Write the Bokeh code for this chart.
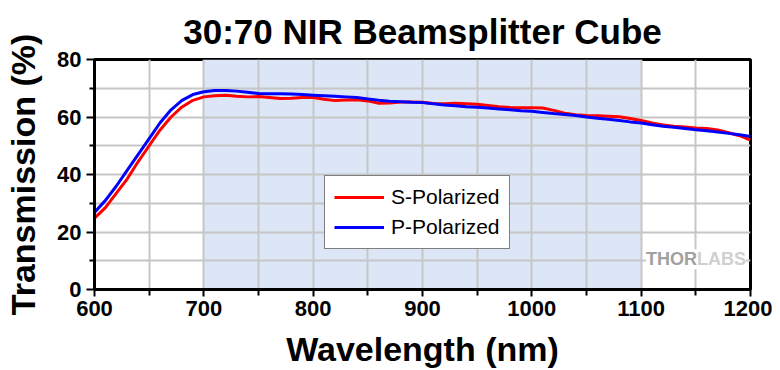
from bokeh.plotting import figure
from bokeh.models import BoxAnnotation, Legend, LegendItem, Label, FixedTicker, Range1d
from bokeh.embed import file_html
from bokeh.resources import INLINE

title_text = "30:70 NIR Beamsplitter Cube"
wavelength = [600, 610, 620, 630, 640, 650, 660, 670, 680, 690, 700, 710, 720, 730, 740, 750,
              760, 770, 780, 790, 800, 810, 820, 830, 840, 850, 860, 870, 880, 890, 900, 910,
              920, 930, 940, 950, 960, 970, 980, 990, 1000, 1010, 1020, 1030, 1040, 1050, 1060,
              1070, 1080, 1090, 1100, 1110, 1120, 1130, 1140, 1150, 1160, 1170, 1180, 1190, 1200]
s_pol = [24.8, 28.5, 33.5, 38.5, 44.5, 50.0, 55.5, 60.0, 63.5, 65.8, 67.0, 67.4, 67.6, 67.2, 67.0, 67.1,
         66.8, 66.4, 66.5, 66.8, 66.8, 66.2, 65.7, 65.9, 66.0, 65.6, 64.8, 64.9, 65.2, 65.2, 65.1, 64.7,
         64.6, 64.8, 64.6, 64.4, 64.0, 63.6, 63.3, 63.2, 63.2, 63.1, 62.3, 61.3, 60.8, 60.5, 60.4,
         60.3, 60.1, 59.5, 58.8, 57.9, 57.2, 56.8, 56.5, 56.2, 56.0, 55.5, 54.5, 53.5, 52.0]
p_pol = [26.8, 31.0, 36.0, 41.5, 47.0, 52.5, 58.0, 62.5, 65.8, 67.8, 68.8, 69.2, 69.2, 69.0, 68.6, 68.2,
         68.1, 68.1, 68.0, 67.8, 67.6, 67.4, 67.2, 67.0, 66.8, 66.3, 65.8, 65.5, 65.3, 65.1, 65.0, 64.6,
         64.2, 63.9, 63.6, 63.4, 63.1, 62.8, 62.5, 62.2, 62.0, 61.6, 61.2, 60.9, 60.5, 60.0, 59.6,
         59.2, 58.8, 58.3, 57.9, 57.3, 56.8, 56.4, 56.0, 55.6, 55.2, 54.8, 54.3, 53.8, 53.2]
x_ticks = [600, 700, 800, 900, 1000, 1100, 1200]
x_minor = [650, 750, 850, 950, 1050, 1150]
y_ticks = [0, 20, 40, 60, 80]
y_minor = [10, 30, 50, 70]
band = (700, 1100)

p = figure(width=772, height=370, output_backend="svg", toolbar_location=None,
           x_range=Range1d(600, 1200), y_range=Range1d(0, 80),
           min_border_left=94, min_border_right=22, min_border_top=58, min_border_bottom=81,
           title=title_text)
p.title.align = "center"
p.title.text_font = "Liberation Sans"
p.title.text_font_size = "35px"
p.title.text_font_style = "bold"
p.title.text_color = "black"
p.title.text_line_height = 1.0
p.title.offset = 0
p.title.standoff = 18

p.outline_line_color = "black"
p.outline_line_width = 3

p.add_layout(BoxAnnotation(left=band[0], right=band[1], fill_color="#dde6f6", fill_alpha=1.0,
                           line_alpha=0, level="image"))

for ax in (p.xaxis[0], p.yaxis[0]):
    ax.axis_line_width = 3
    ax.axis_line_color = "black"
    ax.major_tick_line_width = 2
    ax.minor_tick_line_width = 2
    ax.major_tick_in = 0
    ax.minor_tick_in = 0
    ax.major_label_text_font = "Liberation Sans"
    ax.major_label_text_font_style = "bold"
    ax.major_label_text_font_size = "22px"
    ax.major_label_text_color = "black"
    ax.axis_label_text_font = "Liberation Sans"
    ax.axis_label_text_font_style = "bold"
    ax.axis_label_text_font_size = "34px"
    ax.axis_label_text_color = "black"

p.xaxis.ticker = FixedTicker(ticks=x_ticks, minor_ticks=x_minor)
p.yaxis.ticker = FixedTicker(ticks=y_ticks, minor_ticks=y_minor)
p.xaxis.major_tick_out = 7
p.xaxis.minor_tick_out = 6
p.yaxis.major_tick_out = 8
p.yaxis.minor_tick_out = 5
p.xaxis.major_label_standoff = 4
p.yaxis.major_label_standoff = 5
p.xaxis.axis_label = "Wavelength (nm)"
p.yaxis.axis_label = "Transmission (%)"
p.xaxis.axis_label_standoff = 11
p.yaxis.axis_label_standoff = 12

for g in (p.xgrid[0], p.ygrid[0]):
    g.grid_line_color = "#c6c6c6"
    g.grid_line_width = 2
    g.minor_grid_line_color = "#c6c6c6"
    g.minor_grid_line_width = 2

r_s = p.line(wavelength, s_pol, line_color="#ff0000", line_width=3)
r_p = p.line(wavelength, p_pol, line_color="#0000ff", line_width=3)

legend = Legend(items=[LegendItem(label="S-Polarized", renderers=[r_s]),
                       LegendItem(label="P-Polarized", renderers=[r_p])],
                location=(230, 40), label_text_font="Liberation Sans", label_text_font_size="21px",
                label_text_color="black", glyph_width=50, glyph_height=20, label_height=20,
                spacing=6, padding=9, margin=0, border_line_color="black", border_line_width=1.5,
                background_fill_color="white", background_fill_alpha=1.0, label_standoff=7)
p.add_layout(legend, "center")

p.add_layout(Label(x=1151, y=10.5, text="THOR", text_font="Liberation Sans", text_font_style="bold",
                   text_font_size="18px", text_color="#a0a0a0", text_align="right", text_baseline="middle",
                   background_fill_color="white", padding=0))
p.add_layout(Label(x=1151, y=10.5, text="LABS", text_font="Liberation Sans", text_font_style="bold",
                   text_font_size="18px", text_color="#d0d0d0", text_align="left", text_baseline="middle",
                   background_fill_color="white", padding=0))

open("out.html", "w").write(file_html(p, INLINE))
